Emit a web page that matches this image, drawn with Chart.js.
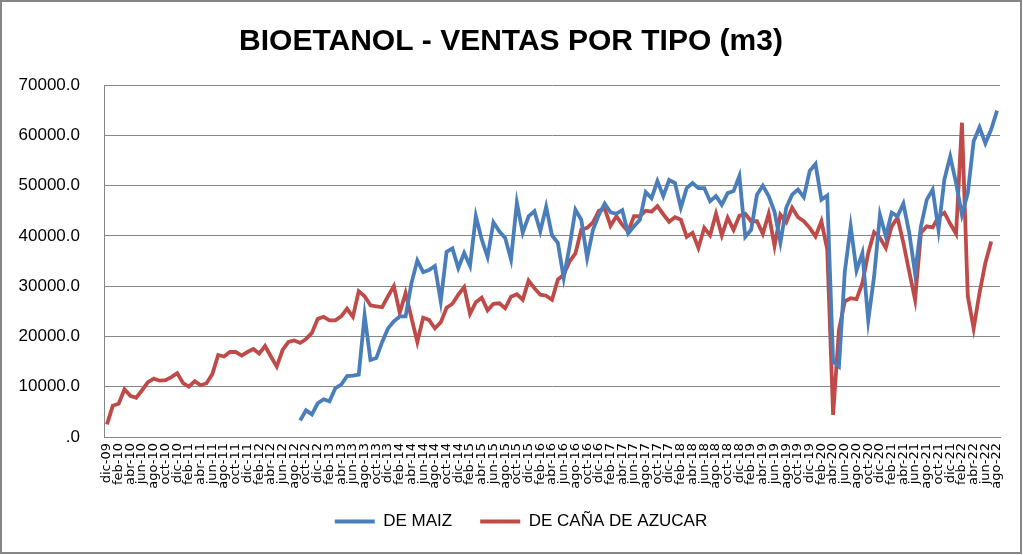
<!DOCTYPE html>
<html><head><meta charset="utf-8">
<script src="https://cdn.jsdelivr.net/npm/chart.js@4"></script>
<style>html,body{margin:0;padding:0;background:#fff;}#wrap{width:1023px;height:555px;}</style>
</head><body><div id="wrap"><canvas id="c" width="1023" height="555"></canvas></div>
<script>
const monthNames = ['ene','feb','mar','abr','may','jun','jul','ago','sep','oct','nov','dic'];
const categories = [];
for (let i = 0; i < 153; i++) {
  const m = (11 + i) % 12;
  const y = 2009 + Math.floor((11 + i) / 12);
  categories.push(monthNames[m] + '-' + String(y % 100).padStart(2, '0'));
}
const seriesNames = ['DE MAIZ', 'DE CAÑA DE AZUCAR'];
const titleText = 'BIOETANOL - VENTAS POR TIPO (m3)';

const maiz = [
  null,null,null,null,null,null,null,null,null,null,
  null,null,null,null,null,null,null,null,null,null,
  null,null,null,null,null,null,null,null,null,null,
  null,null,null,3300,5300,4500,6700,7500,7100,9700,
  10400,12100,12200,12400,24200,15300,15700,18900,21600,23000,
  24000,24000,30600,35100,32800,33200,34000,27000,36800,37500,
  33600,36600,34000,43900,39300,35800,42700,40900,39600,35300,
  46600,40600,43900,44900,40900,45800,40100,38600,31600,37900,
  45200,43200,35600,41200,44200,46400,44700,44400,45100,40500,
  41900,43200,48700,47500,50900,47900,51100,50500,45600,49500,
  50500,49500,49500,46900,47900,46200,48500,48900,51900,39800,
  41200,48200,50000,47900,44800,38700,45600,48200,49200,47700,
  52900,54300,47200,48000,15000,14000,32900,41900,33100,36600,
  23200,31900,44200,39900,44600,43900,46400,40600,32500,41900,
  47200,49200,41200,51200,55800,50500,44200,48500,58800,61600,
  58400,61200,64900
];
const cana = [
  2500,6200,6600,9500,8200,7800,9300,10900,11600,11200,
  11300,11900,12700,10700,10000,11100,10300,10700,12500,16300,
  16000,16900,16900,16200,16900,17500,16600,18100,16000,14000,
  17300,18900,19200,18700,19500,20700,23500,23900,23200,23200,
  24000,25500,23900,29000,28000,26200,26000,25800,28000,30000,
  24700,28600,23700,18900,23700,23300,21600,22800,25700,26500,
  28300,29800,24500,26800,27700,25200,26500,26600,25600,27900,
  28400,27300,31100,29600,28300,28100,27300,31300,32300,34900,
  36500,41200,41600,42700,45000,45400,42000,43900,42200,40900,
  43900,43900,45000,44800,45900,44300,42800,43700,43200,39800,
  40600,37600,41600,40100,44400,40100,43600,41200,44000,44400,
  42900,42900,40400,44400,38000,44200,42700,45600,43700,42900,
  41600,39900,42900,37300,4400,21300,27000,27600,27400,30600,
  36600,40700,39600,37600,41900,43600,38600,32900,27300,40600,
  41900,41700,43800,44600,42400,40400,62500,28000,21600,28600,
  34600,38900,null
];

const bgPlugin = {
  id: 'bg',
  beforeDraw(chart) {
    const ctx = chart.ctx;
    ctx.save();
    ctx.fillStyle = '#fff';
    ctx.fillRect(0, 0, chart.width, chart.height);
    ctx.strokeStyle = '#868686';
    ctx.lineWidth = 2;
    ctx.strokeRect(1, 1, 1020, 552);
    ctx.restore();
  }
};
const shiftPlugin = {
  id: 'shift',
  afterLayout(chart) {
    const t = chart.titleBlock;
    if (t) { t.left += 11; t.right += 11; }
    const l = chart.legend;
    if (l) { l.left += 21; l.right += 21; l.top -= 10; l.bottom -= 10; }
  }
};

Chart.defaults.color = '#000';
new Chart(document.getElementById('c'), {
  type: 'line',
  data: {
    labels: categories,
    datasets: [
      { label: seriesNames[0], data: maiz, borderColor: '#4A7EBB', backgroundColor: '#4A7EBB', borderWidth: 3.8, pointRadius: 0, tension: 0 },
      { label: seriesNames[1], data: cana, borderColor: '#BE4B48', backgroundColor: '#BE4B48', borderWidth: 3.8, pointRadius: 0, tension: 0 }
    ]
  },
  options: {
    responsive: false,
    animation: false,
    devicePixelRatio: 1,
    layout: { padding: { left: 0, right: 23, top: 0, bottom: 5 } },
    plugins: {
      title: { display: true, text: titleText, color: '#000', font: { family: 'Liberation Sans', size: 30, weight: 'bold' }, padding: { top: 24, bottom: 25 } },
      legend: { position: 'bottom', labels: { usePointStyle: true, pointStyle: 'line', pointStyleWidth: 40, padding: 28, color: '#000', font: { family: 'Liberation Sans', size: 17 } } },
      tooltip: { enabled: false }
    },
    scales: {
      x: {
        offset: true,
        grid: { display: false, drawTicks: false },
        border: { display: true, color: '#868686', width: 1 },
        ticks: {
          autoSkip: false, maxRotation: 90, minRotation: 90, padding: 6,
          color: '#000', font: { family: 'DejaVu Sans', size: 13 },
          callback: (v, i) => (i % 2 === 0 ? categories[i] : '')
        },
        afterFit(s) { s.height = 58; }
      },
      y: {
        min: 0, max: 70000,
        grid: { color: '#868686', drawTicks: false },
        border: { color: '#868686', width: 1 },
        ticks: {
          stepSize: 10000, padding: 24, color: '#000',
          font: { family: 'Liberation Sans', size: 17 },
          callback: v => (v === 0 ? '.0' : Number(v).toFixed(1))
        },
        afterFit(s) { s.width = 104; }
      }
    }
  },
  plugins: [bgPlugin, shiftPlugin]
});
</script>
</body></html>
